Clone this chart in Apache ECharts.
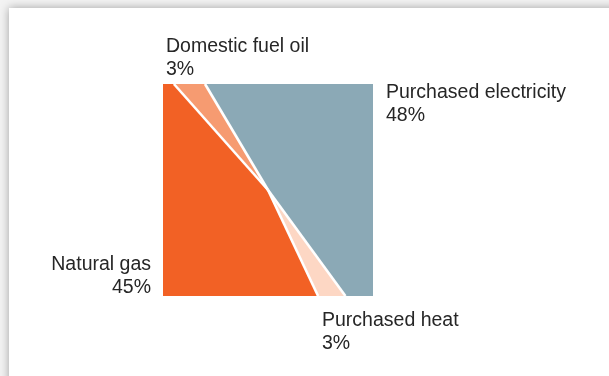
<!DOCTYPE html>
<html>
<head>
<meta charset="utf-8">
<script src="https://cdn.jsdelivr.net/npm/echarts@6/dist/echarts.min.js"></script>
<style>
  html, body { margin: 0; padding: 0; width: 609px; height: 376px; overflow: hidden; background: #f3f3f3; }
  #card { position: absolute; left: 9px; top: 8px; width: 620px; height: 390px; background: #fff;
          box-shadow: 0 0 9px rgba(0,0,0,0.34); }
  #chart { position: absolute; left: 0; top: 0; width: 609px; height: 376px; }
</style>
</head>
<body>
<div id="card"></div>
<div id="chart"></div>
<script>
// Energy sources, share in percent (clockwise order)
const categories = ['Natural gas', 'Domestic fuel oil', 'Purchased electricity', 'Purchased heat'];
const shares = [45, 3, 48, 3];
const colors = ['#f26125', '#f69b71', '#8ba9b6', '#fdd7c4'];
const startAngle = 154.5; // degrees, clockwise from 12 o'clock

// Label placement (pixel anchors) and alignment
const labelAnchors = [[151, 253], [166, 35], [386, 81], [322, 309]];
const labelAlign = ['right', 'left', 'left', 'left'];

// Angular extent of every slice
const total = shares.reduce((a, b) => a + b, 0);
const sliceData = [];
let acc = startAngle;
shares.forEach((v, i) => {
  const span = v / total * 360;
  sliceData.push({ value: [acc, acc + span], itemStyle: { color: colors[i] }, name: categories[i] });
  acc += span;
});
const boundaries = sliceData.map(d => [d.value[0]]);

// Point where a ray from the centre meets the square [-1,1]x[-1,1]
function edgePoint(deg) {
  const r = deg * Math.PI / 180;
  const dx = Math.sin(r), dy = Math.cos(r);
  const m = Math.max(Math.abs(dx), Math.abs(dy));
  return [dx / m, dy / m];
}

function renderSlice(params, api) {
  const s = api.value(0), e = api.value(1);
  const pts = [api.coord([0, 0]), api.coord(edgePoint(s))];
  for (let c = 45; c < e; c += 90) {
    if (c > s) pts.push(api.coord(edgePoint(c)));
  }
  pts.push(api.coord(edgePoint(e)));
  return {
    type: 'polygon',
    shape: { points: pts },
    style: { fill: api.visual('color') }
  };
}

function renderSeparator(params, api) {
  const a = api.value(0);
  const p0 = api.coord([0, 0]);
  const p1 = api.coord(edgePoint(a));
  return {
    type: 'line',
    shape: { x1: p0[0], y1: p0[1], x2: p1[0], y2: p1[1] },
    style: { stroke: '#ffffff', lineWidth: 2.6 }
  };
}

const labelGraphics = categories.map((name, i) => ({
  type: 'text',
  x: labelAnchors[i][0],
  y: labelAnchors[i][1],
  z: 10,
  style: {
    text: name + '\n' + shares[i] + '%',
    fill: '#262626',
    font: '19.5px "Liberation Sans", Arial, Helvetica, sans-serif',
    lineHeight: 23,
    align: labelAlign[i],
    verticalAlign: 'top'
  }
}));

const chart = echarts.init(document.getElementById('chart'), null, { renderer: 'canvas' });
chart.setOption({
  animation: false,
  backgroundColor: 'transparent',
  grid: { left: 163, top: 84, width: 210, height: 212 },
  xAxis: { type: 'value', min: -1, max: 1, show: false },
  yAxis: { type: 'value', min: -1, max: 1, show: false },
  series: [
    { type: 'custom', renderItem: renderSlice, data: sliceData, z: 2 },
    { type: 'custom', renderItem: renderSeparator, data: boundaries, z: 3, silent: true }
  ],
  graphic: labelGraphics
});
</script>
</body>
</html>
